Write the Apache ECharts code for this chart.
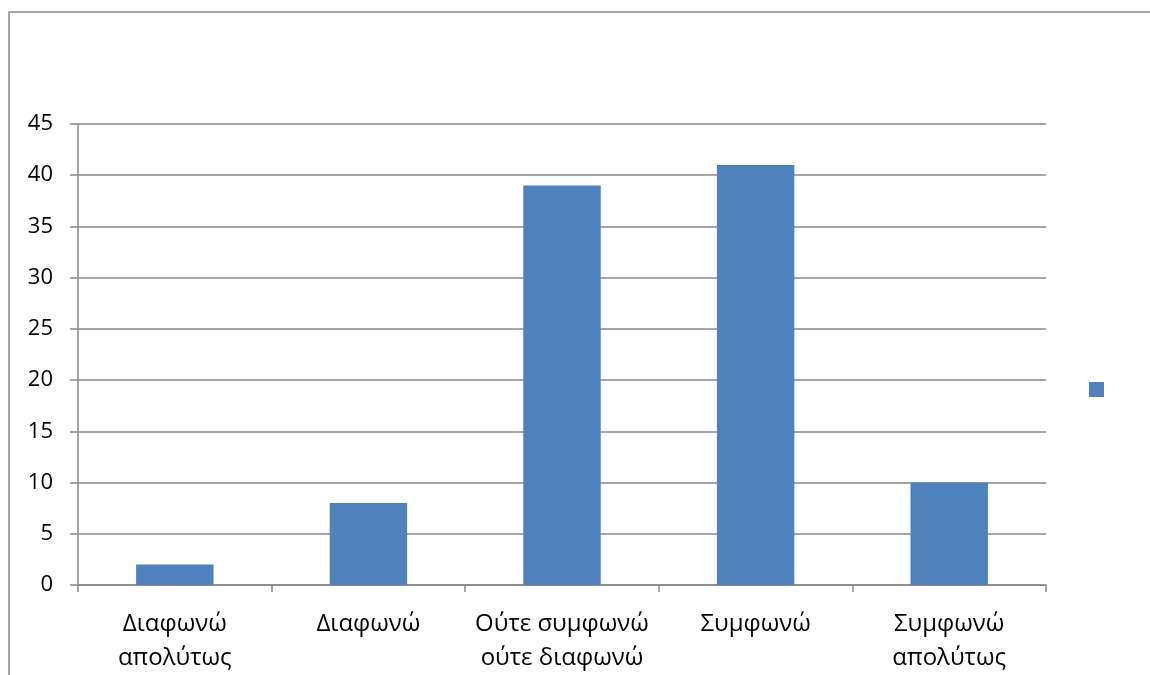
<!DOCTYPE html>
<html>
<head>
<meta charset="utf-8">
<script src="https://cdn.jsdelivr.net/npm/echarts@6/dist/echarts.min.js"></script>
<style>
  html, body { margin: 0; padding: 0; background: #fff; }
  #chart { width: 1150px; height: 675px; }
</style>
</head>
<body>
<div id="chart"></div>
<script>
// Response categories (Likert scale) and counts
const categories = [
  'Διαφωνώ\nαπολύτως',
  'Διαφωνώ',
  'Ούτε συμφωνώ\nούτε διαφωνώ',
  'Συμφωνώ',
  'Συμφωνώ\nαπολύτως'
];
const counts = [2, 8, 39, 41, 10];
const seriesName = ' ';
const yMin = 0, yMax = 45, yStep = 5;

const FONT = '"Open Sans", "Noto Sans", sans-serif';
const GRID_COLOR = '#888888';

const chart = echarts.init(document.getElementById('chart'), null, { renderer: 'canvas' });
chart.setOption({
  animation: false,
  backgroundColor: '#ffffff',
  textStyle: { fontFamily: FONT },
  graphic: [{
    type: 'rect',
    silent: true,
    shape: { x: 9, y: 12, width: 1200, height: 700 },
    style: { fill: null, stroke: '#8a8a8a', lineWidth: 1.5 }
  }],
  grid: { left: 78, right: 104, top: 124, bottom: 90, containLabel: false },
  legend: {
    show: true,
    data: [seriesName],
    left: 1089,
    top: 382,
    padding: 0,
    itemWidth: 15,
    itemHeight: 15,
    itemGap: 0,
    icon: 'rect',
    textStyle: { fontSize: 1, color: 'transparent' },
    selectedMode: false
  },
  xAxis: {
    type: 'category',
    data: categories,
    axisLine: { show: true, lineStyle: { color: GRID_COLOR, width: 1.5 } },
    axisTick: { show: true, length: 7, lineStyle: { color: GRID_COLOR, width: 1.5 } },
    axisLabel: {
      interval: 0,
      margin: 22,
      color: '#000',
      fontFamily: FONT,
      fontSize: 24,
      lineHeight: 34
    }
  },
  yAxis: {
    type: 'value',
    min: yMin,
    max: yMax,
    interval: yStep,
    axisLine: { show: true, lineStyle: { color: GRID_COLOR, width: 1.5 } },
    axisTick: { show: true, length: 8, lineStyle: { color: GRID_COLOR, width: 1.5 } },
    splitLine: { show: true, lineStyle: { color: GRID_COLOR, width: 1.5 } },
    axisLabel: {
      margin: 25,
      color: '#000',
      fontFamily: FONT,
      fontSize: 22
    }
  },
  series: [{
    name: seriesName,
    type: 'bar',
    data: counts,
    barCategoryGap: '60%',
    itemStyle: { color: '#4F81BD' }
  }]
});
</script>
</body>
</html>
